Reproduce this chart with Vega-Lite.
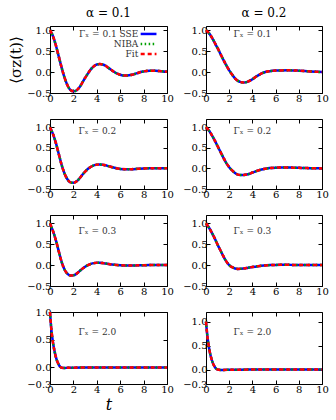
{
"$schema": "https://vega.github.io/schema/vega-lite/v6.json",
"background": "white",
"padding": {"left": 8, "top": 6, "right": 4, "bottom": 4},
"config": {
  "view": {"stroke": "black", "strokeWidth": 1},
  "font": "DejaVu Serif",
  "axis": {"domain": false, "grid": false, "tickSize": -4, "tickColor": "black", "tickWidth": 1, "labelFont": "DejaVu Serif", "labelFontSize": 10, "labelColor": "black", "labelPadding": 3, "labelFlush": false, "labelOverlap": false, "titleFont": "DejaVu Serif", "titleFontWeight": "normal", "titleColor": "black"},
  "axisBottom": {"labelPadding": 4},
  "title": {"font": "DejaVu Serif", "fontSize": 12, "fontWeight": "normal", "color": "black", "offset": 5}
},
"datasets": {
  "A": [{"t":0,"sse":1,"niba":1,"fit":1},{"t":0.25,"sse":0.86,"niba":0.86,"fit":0.86},{"t":0.5,"sse":0.64,"niba":0.64,"fit":0.64},{"t":0.75,"sse":0.37,"niba":0.37,"fit":0.37},{"t":1,"sse":0.1,"niba":0.1,"fit":0.1},{"t":1.25,"sse":-0.14,"niba":-0.14,"fit":-0.14},{"t":1.5,"sse":-0.32,"niba":-0.32,"fit":-0.32},{"t":1.75,"sse":-0.43,"niba":-0.43,"fit":-0.43},{"t":2,"sse":-0.46,"niba":-0.46,"fit":-0.46},{"t":2.25,"sse":-0.44,"niba":-0.44,"fit":-0.44},{"t":2.5,"sse":-0.37,"niba":-0.37,"fit":-0.37},{"t":2.75,"sse":-0.26,"niba":-0.26,"fit":-0.26},{"t":3,"sse":-0.14,"niba":-0.14,"fit":-0.14},{"t":3.25,"sse":-0.03,"niba":-0.03,"fit":-0.03},{"t":3.5,"sse":0.07,"niba":0.07,"fit":0.07},{"t":3.75,"sse":0.14,"niba":0.14,"fit":0.14},{"t":4,"sse":0.18,"niba":0.18,"fit":0.18},{"t":4.25,"sse":0.19,"niba":0.19,"fit":0.19},{"t":4.5,"sse":0.18,"niba":0.18,"fit":0.18},{"t":4.75,"sse":0.15,"niba":0.15,"fit":0.15},{"t":5,"sse":0.1,"niba":0.1,"fit":0.1},{"t":5.25,"sse":0.05,"niba":0.05,"fit":0.05},{"t":5.5,"sse":0,"niba":0,"fit":0},{"t":5.75,"sse":-0.04,"niba":-0.04,"fit":-0.04},{"t":6,"sse":-0.065,"niba":-0.065,"fit":-0.065},{"t":6.25,"sse":-0.08,"niba":-0.08,"fit":-0.08},{"t":6.5,"sse":-0.083,"niba":-0.083,"fit":-0.083},{"t":6.75,"sse":-0.078,"niba":-0.078,"fit":-0.078},{"t":7,"sse":-0.065,"niba":-0.065,"fit":-0.065},{"t":7.25,"sse":-0.045,"niba":-0.045,"fit":-0.045},{"t":7.5,"sse":-0.022,"niba":-0.022,"fit":-0.022},{"t":7.75,"sse":0,"niba":0,"fit":0},{"t":8,"sse":0.015,"niba":0.015,"fit":0.015},{"t":8.5,"sse":0.033,"niba":0.033,"fit":0.033},{"t":9,"sse":0.031,"niba":0.031,"fit":0.031},{"t":9.5,"sse":0.02,"niba":0.02,"fit":0.02},{"t":10,"sse":0.01,"niba":0.01,"fit":0.01}],
  "B": [{"t":0,"sse":1,"niba":1,"fit":1},{"t":0.25,"sse":0.93,"niba":0.93,"fit":0.93},{"t":0.5,"sse":0.83,"niba":0.83,"fit":0.83},{"t":0.75,"sse":0.7,"niba":0.7,"fit":0.7},{"t":1,"sse":0.57,"niba":0.57,"fit":0.57},{"t":1.25,"sse":0.43,"niba":0.43,"fit":0.43},{"t":1.5,"sse":0.29,"niba":0.29,"fit":0.29},{"t":1.75,"sse":0.16,"niba":0.16,"fit":0.16},{"t":2,"sse":0.04,"niba":0.04,"fit":0.04},{"t":2.25,"sse":-0.06,"niba":-0.06,"fit":-0.06},{"t":2.5,"sse":-0.15,"niba":-0.15,"fit":-0.15},{"t":2.75,"sse":-0.21,"niba":-0.21,"fit":-0.21},{"t":3,"sse":-0.24,"niba":-0.24,"fit":-0.24},{"t":3.25,"sse":-0.25,"niba":-0.25,"fit":-0.25},{"t":3.5,"sse":-0.24,"niba":-0.24,"fit":-0.24},{"t":3.75,"sse":-0.21,"niba":-0.21,"fit":-0.21},{"t":4,"sse":-0.17,"niba":-0.17,"fit":-0.17},{"t":4.25,"sse":-0.12,"niba":-0.12,"fit":-0.12},{"t":4.5,"sse":-0.08,"niba":-0.08,"fit":-0.08},{"t":4.75,"sse":-0.04,"niba":-0.04,"fit":-0.04},{"t":5,"sse":-0.01,"niba":-0.01,"fit":-0.01},{"t":5.5,"sse":0.02,"niba":0.02,"fit":0.02},{"t":6,"sse":0.035,"niba":0.035,"fit":0.035},{"t":6.5,"sse":0.04,"niba":0.04,"fit":0.04},{"t":7,"sse":0.042,"niba":0.042,"fit":0.042},{"t":7.5,"sse":0.04,"niba":0.04,"fit":0.04},{"t":8,"sse":0.033,"niba":0.033,"fit":0.033},{"t":8.5,"sse":0.025,"niba":0.025,"fit":0.025},{"t":9,"sse":0.015,"niba":0.015,"fit":0.015},{"t":9.5,"sse":0.007,"niba":0.007,"fit":0.007},{"t":10,"sse":0,"niba":0,"fit":0}],
  "C": [{"t":0,"sse":1,"niba":1,"fit":1},{"t":0.25,"sse":0.84,"niba":0.84,"fit":0.84},{"t":0.5,"sse":0.62,"niba":0.62,"fit":0.62},{"t":0.75,"sse":0.35,"niba":0.35,"fit":0.35},{"t":1,"sse":0.08,"niba":0.08,"fit":0.08},{"t":1.25,"sse":-0.13,"niba":-0.13,"fit":-0.13},{"t":1.5,"sse":-0.27,"niba":-0.27,"fit":-0.27},{"t":1.75,"sse":-0.34,"niba":-0.34,"fit":-0.34},{"t":2,"sse":-0.35,"niba":-0.35,"fit":-0.35},{"t":2.25,"sse":-0.32,"niba":-0.32,"fit":-0.32},{"t":2.5,"sse":-0.25,"niba":-0.25,"fit":-0.25},{"t":2.75,"sse":-0.16,"niba":-0.16,"fit":-0.16},{"t":3,"sse":-0.08,"niba":-0.08,"fit":-0.08},{"t":3.25,"sse":-0.01,"niba":-0.01,"fit":-0.01},{"t":3.5,"sse":0.04,"niba":0.04,"fit":0.04},{"t":3.75,"sse":0.075,"niba":0.075,"fit":0.075},{"t":4,"sse":0.092,"niba":0.092,"fit":0.092},{"t":4.25,"sse":0.096,"niba":0.096,"fit":0.096},{"t":4.5,"sse":0.09,"niba":0.09,"fit":0.09},{"t":4.75,"sse":0.075,"niba":0.075,"fit":0.075},{"t":5,"sse":0.055,"niba":0.055,"fit":0.055},{"t":5.25,"sse":0.035,"niba":0.035,"fit":0.035},{"t":5.5,"sse":0.015,"niba":0.015,"fit":0.015},{"t":5.75,"sse":0,"niba":0,"fit":0},{"t":6,"sse":-0.012,"niba":-0.012,"fit":-0.012},{"t":6.5,"sse":-0.02,"niba":-0.02,"fit":-0.02},{"t":7,"sse":-0.018,"niba":-0.018,"fit":-0.018},{"t":7.5,"sse":-0.01,"niba":-0.01,"fit":-0.01},{"t":8,"sse":-0.002,"niba":-0.002,"fit":-0.002},{"t":8.5,"sse":0.004,"niba":0.004,"fit":0.004},{"t":9,"sse":0.006,"niba":0.006,"fit":0.006},{"t":9.5,"sse":0.005,"niba":0.005,"fit":0.005},{"t":10,"sse":0.003,"niba":0.003,"fit":0.003}],
  "D": [{"t":0,"sse":1,"niba":1,"fit":1},{"t":0.25,"sse":0.92,"niba":0.92,"fit":0.92},{"t":0.5,"sse":0.81,"niba":0.81,"fit":0.81},{"t":0.75,"sse":0.68,"niba":0.68,"fit":0.68},{"t":1,"sse":0.54,"niba":0.54,"fit":0.54},{"t":1.25,"sse":0.4,"niba":0.4,"fit":0.4},{"t":1.5,"sse":0.26,"niba":0.26,"fit":0.26},{"t":1.75,"sse":0.13,"niba":0.13,"fit":0.13},{"t":2,"sse":0.03,"niba":0.03,"fit":0.03},{"t":2.25,"sse":-0.05,"niba":-0.05,"fit":-0.05},{"t":2.5,"sse":-0.11,"niba":-0.11,"fit":-0.11},{"t":2.75,"sse":-0.15,"niba":-0.15,"fit":-0.15},{"t":3,"sse":-0.16,"niba":-0.16,"fit":-0.16},{"t":3.25,"sse":-0.16,"niba":-0.16,"fit":-0.16},{"t":3.5,"sse":-0.15,"niba":-0.15,"fit":-0.15},{"t":3.75,"sse":-0.13,"niba":-0.13,"fit":-0.13},{"t":4,"sse":-0.1,"niba":-0.1,"fit":-0.1},{"t":4.25,"sse":-0.075,"niba":-0.075,"fit":-0.075},{"t":4.5,"sse":-0.05,"niba":-0.05,"fit":-0.05},{"t":4.75,"sse":-0.03,"niba":-0.03,"fit":-0.03},{"t":5,"sse":-0.012,"niba":-0.012,"fit":-0.012},{"t":5.5,"sse":0.008,"niba":0.008,"fit":0.008},{"t":6,"sse":0.018,"niba":0.018,"fit":0.018},{"t":6.5,"sse":0.022,"niba":0.022,"fit":0.022},{"t":7,"sse":0.022,"niba":0.022,"fit":0.022},{"t":7.5,"sse":0.019,"niba":0.019,"fit":0.019},{"t":8,"sse":0.014,"niba":0.014,"fit":0.014},{"t":8.5,"sse":0.009,"niba":0.009,"fit":0.009},{"t":9,"sse":0.005,"niba":0.005,"fit":0.005},{"t":9.5,"sse":0.002,"niba":0.002,"fit":0.002},{"t":10,"sse":0,"niba":0,"fit":0}],
  "E": [{"t":0,"sse":1,"niba":1,"fit":1},{"t":0.25,"sse":0.82,"niba":0.82,"fit":0.82},{"t":0.5,"sse":0.6,"niba":0.6,"fit":0.6},{"t":0.75,"sse":0.33,"niba":0.33,"fit":0.33},{"t":1,"sse":0.07,"niba":0.07,"fit":0.07},{"t":1.25,"sse":-0.11,"niba":-0.11,"fit":-0.11},{"t":1.5,"sse":-0.21,"niba":-0.21,"fit":-0.21},{"t":1.75,"sse":-0.25,"niba":-0.25,"fit":-0.25},{"t":2,"sse":-0.245,"niba":-0.245,"fit":-0.245},{"t":2.25,"sse":-0.21,"niba":-0.21,"fit":-0.21},{"t":2.5,"sse":-0.15,"niba":-0.15,"fit":-0.15},{"t":2.75,"sse":-0.09,"niba":-0.09,"fit":-0.09},{"t":3,"sse":-0.04,"niba":-0.04,"fit":-0.04},{"t":3.25,"sse":0,"niba":0,"fit":0},{"t":3.5,"sse":0.03,"niba":0.03,"fit":0.03},{"t":3.75,"sse":0.048,"niba":0.048,"fit":0.048},{"t":4,"sse":0.055,"niba":0.055,"fit":0.055},{"t":4.25,"sse":0.054,"niba":0.054,"fit":0.054},{"t":4.5,"sse":0.048,"niba":0.048,"fit":0.048},{"t":4.75,"sse":0.038,"niba":0.038,"fit":0.038},{"t":5,"sse":0.027,"niba":0.027,"fit":0.027},{"t":5.5,"sse":0.008,"niba":0.008,"fit":0.008},{"t":6,"sse":-0.004,"niba":-0.004,"fit":-0.004},{"t":6.5,"sse":-0.008,"niba":-0.008,"fit":-0.008},{"t":7,"sse":-0.008,"niba":-0.008,"fit":-0.008},{"t":7.5,"sse":-0.005,"niba":-0.005,"fit":-0.005},{"t":8,"sse":-0.002,"niba":-0.002,"fit":-0.002},{"t":8.5,"sse":0,"niba":0,"fit":0},{"t":9,"sse":0.001,"niba":0.001,"fit":0.001},{"t":9.5,"sse":0.001,"niba":0.001,"fit":0.001},{"t":10,"sse":0,"niba":0,"fit":0}],
  "F": [{"t":0,"sse":1,"niba":1,"fit":1},{"t":0.25,"sse":0.9,"niba":0.9,"fit":0.9},{"t":0.5,"sse":0.78,"niba":0.78,"fit":0.78},{"t":0.75,"sse":0.64,"niba":0.64,"fit":0.64},{"t":1,"sse":0.49,"niba":0.49,"fit":0.49},{"t":1.25,"sse":0.35,"niba":0.35,"fit":0.35},{"t":1.5,"sse":0.21,"niba":0.21,"fit":0.21},{"t":1.75,"sse":0.09,"niba":0.09,"fit":0.09},{"t":2,"sse":0,"niba":0,"fit":0},{"t":2.25,"sse":-0.05,"niba":-0.05,"fit":-0.05},{"t":2.5,"sse":-0.08,"niba":-0.08,"fit":-0.08},{"t":2.75,"sse":-0.09,"niba":-0.09,"fit":-0.09},{"t":3,"sse":-0.088,"niba":-0.088,"fit":-0.088},{"t":3.25,"sse":-0.08,"niba":-0.08,"fit":-0.08},{"t":3.5,"sse":-0.07,"niba":-0.07,"fit":-0.07},{"t":3.75,"sse":-0.057,"niba":-0.057,"fit":-0.057},{"t":4,"sse":-0.045,"niba":-0.045,"fit":-0.045},{"t":4.5,"sse":-0.025,"niba":-0.025,"fit":-0.025},{"t":5,"sse":-0.01,"niba":-0.01,"fit":-0.01},{"t":5.5,"sse":0,"niba":0,"fit":0},{"t":6,"sse":0.005,"niba":0.005,"fit":0.005},{"t":6.5,"sse":0.007,"niba":0.007,"fit":0.007},{"t":7,"sse":0.007,"niba":0.007,"fit":0.007},{"t":7.5,"sse":0.005,"niba":0.005,"fit":0.005},{"t":8,"sse":0.003,"niba":0.003,"fit":0.003},{"t":9,"sse":0.001,"niba":0.001,"fit":0.001},{"t":10,"sse":0,"niba":0,"fit":0}],
  "G": [{"t":0,"sse":1,"niba":1,"fit":1},{"t":0.1,"sse":0.72,"niba":0.72,"fit":0.72},{"t":0.2,"sse":0.53,"niba":0.53,"fit":0.53},{"t":0.3,"sse":0.39,"niba":0.39,"fit":0.39},{"t":0.4,"sse":0.28,"niba":0.28,"fit":0.28},{"t":0.5,"sse":0.19,"niba":0.19,"fit":0.19},{"t":0.6,"sse":0.12,"niba":0.12,"fit":0.12},{"t":0.7,"sse":0.07,"niba":0.07,"fit":0.07},{"t":0.8,"sse":0.03,"niba":0.03,"fit":0.03},{"t":0.9,"sse":0.005,"niba":0.005,"fit":0.005},{"t":1,"sse":-0.008,"niba":-0.008,"fit":-0.008},{"t":1.25,"sse":-0.01,"niba":-0.01,"fit":-0.01},{"t":1.5,"sse":-0.008,"niba":-0.008,"fit":-0.008},{"t":2,"sse":-0.005,"niba":-0.005,"fit":-0.005},{"t":3,"sse":-0.002,"niba":-0.002,"fit":-0.002},{"t":4,"sse":0,"niba":0,"fit":0},{"t":6,"sse":0,"niba":0,"fit":0},{"t":8,"sse":0,"niba":0,"fit":0},{"t":10,"sse":0,"niba":0,"fit":0}],
  "H": [{"t":0,"sse":1,"niba":1,"fit":1},{"t":0.1,"sse":0.74,"niba":0.74,"fit":0.74},{"t":0.2,"sse":0.55,"niba":0.55,"fit":0.55},{"t":0.3,"sse":0.4,"niba":0.4,"fit":0.4},{"t":0.4,"sse":0.29,"niba":0.29,"fit":0.29},{"t":0.5,"sse":0.2,"niba":0.2,"fit":0.2},{"t":0.6,"sse":0.13,"niba":0.13,"fit":0.13},{"t":0.7,"sse":0.08,"niba":0.08,"fit":0.08},{"t":0.8,"sse":0.04,"niba":0.04,"fit":0.04},{"t":0.9,"sse":0.015,"niba":0.015,"fit":0.015},{"t":1,"sse":0,"niba":0,"fit":0},{"t":1.25,"sse":-0.006,"niba":-0.006,"fit":-0.006},{"t":1.5,"sse":-0.006,"niba":-0.006,"fit":-0.006},{"t":2,"sse":-0.004,"niba":-0.004,"fit":-0.004},{"t":3,"sse":-0.002,"niba":-0.002,"fit":-0.002},{"t":4,"sse":0,"niba":0,"fit":0},{"t":6,"sse":0,"niba":0,"fit":0},{"t":8,"sse":0,"niba":0,"fit":0},{"t":10,"sse":0,"niba":0,"fit":0}]
},
"columns": 2,
"spacing": {"row": 26, "column": 39},
"bounds": "flush",
"concat": [
  {"width": 117, "height": 67, "title": {"text": "α = 0.1", "font": "DejaVu Serif", "fontSize": 12, "fontWeight": "normal"}, "data": {"name": "A"},
   "layer": [
    {"mark": {"type": "line", "color": "#0000ff", "strokeWidth": 2.5, "interpolate": "monotone"},
     "encoding": {"x": {"field": "t", "type": "quantitative", "scale": {"domain": [0, 10], "nice": false}, "axis": {"values": [0, 2, 4, 6, 8, 10], "format": "d", "title": null}},
                  "y": {"field": "sse", "type": "quantitative", "scale": {"domain": [-0.5, 1.1], "nice": false, "zero": false}, "axis": {"values": [-0.5, 0, 0.5, 1], "format": ".1f", "title": "⟨σz(t)⟩", "titleFont": "DejaVu Serif", "titleFontSize": 15, "titleFontWeight": "normal", "titlePadding": 3}}}},
    {"mark": {"type": "line", "color": "#00a000", "strokeWidth": 2.5, "strokeDash": [1.5, 2.5], "interpolate": "monotone"},
     "encoding": {"x": {"field": "t", "type": "quantitative", "scale": {"domain": [0, 10], "nice": false}, "axis": {"orient": "top", "values": [0, 2, 4, 6, 8, 10], "labels": false, "title": null}},
                  "y": {"field": "niba", "type": "quantitative", "scale": {"domain": [-0.5, 1.1], "nice": false, "zero": false}, "axis": {"orient": "right", "values": [-0.5, 0, 0.5, 1], "labels": false, "title": null}}}},
    {"mark": {"type": "line", "color": "#ff0000", "strokeWidth": 2.5, "strokeDash": [4, 3], "interpolate": "monotone"},
     "encoding": {"x": {"field": "t", "type": "quantitative", "axis": null}, "y": {"field": "fit", "type": "quantitative", "axis": null}}},
    {"data": {"values": [{"t0": 7.75, "t1": 9.1, "y": 0.91}]}, "mark": {"type": "rule", "color": "#0000ff", "strokeWidth": 2.5},
     "encoding": {"x": {"field": "t0", "type": "quantitative", "axis": null}, "x2": {"field": "t1"}, "y": {"field": "y", "type": "quantitative", "axis": null}}},
    {"data": {"values": [{"t0": 7.75, "t1": 9.1, "y": 0.67}]}, "mark": {"type": "rule", "color": "#00a000", "strokeWidth": 2.5, "strokeDash": [1.5, 2.5]},
     "encoding": {"x": {"field": "t0", "type": "quantitative", "axis": null}, "x2": {"field": "t1"}, "y": {"field": "y", "type": "quantitative", "axis": null}}},
    {"data": {"values": [{"t0": 7.75, "t1": 9.1, "y": 0.43}]}, "mark": {"type": "rule", "color": "#ff0000", "strokeWidth": 2.5, "strokeDash": [4, 3]},
     "encoding": {"x": {"field": "t0", "type": "quantitative", "axis": null}, "x2": {"field": "t1"}, "y": {"field": "y", "type": "quantitative", "axis": null}}},
    {"data": {"values": [{"t": 7.55, "y": 0.91, "label": "Γₓ = 0.1 SSE"}, {"t": 7.55, "y": 0.67, "label": "NIBA"}, {"t": 7.55, "y": 0.43, "label": "Fit"}]},
     "mark": {"type": "text", "font": "DejaVu Serif", "fontSize": 9, "color": "#333333", "align": "right"},
     "encoding": {"x": {"field": "t", "type": "quantitative", "axis": null}, "y": {"field": "y", "type": "quantitative", "axis": null}, "text": {"field": "label"}}}
   ],
   "resolve": {"axis": {"x": "independent", "y": "independent"}}},
  {"width": 116, "height": 67, "title": {"text": "α = 0.2", "font": "DejaVu Serif", "fontSize": 12, "fontWeight": "normal"}, "data": {"name": "B"},
   "layer": [
    {"mark": {"type": "line", "color": "#0000ff", "strokeWidth": 2.5, "interpolate": "monotone"},
     "encoding": {"x": {"field": "t", "type": "quantitative", "scale": {"domain": [0, 10], "nice": false}, "axis": {"values": [0, 2, 4, 6, 8, 10], "format": "d", "title": null}},
                  "y": {"field": "sse", "type": "quantitative", "scale": {"domain": [-0.5, 1.1], "nice": false, "zero": false}, "axis": {"values": [-0.5, 0, 0.5, 1], "format": ".1f", "title": null}}}},
    {"mark": {"type": "line", "color": "#00a000", "strokeWidth": 2.5, "strokeDash": [1.5, 2.5], "interpolate": "monotone"},
     "encoding": {"x": {"field": "t", "type": "quantitative", "scale": {"domain": [0, 10], "nice": false}, "axis": {"orient": "top", "values": [0, 2, 4, 6, 8, 10], "labels": false, "title": null}},
                  "y": {"field": "niba", "type": "quantitative", "scale": {"domain": [-0.5, 1.1], "nice": false, "zero": false}, "axis": {"orient": "right", "values": [-0.5, 0, 0.5, 1], "labels": false, "title": null}}}},
    {"mark": {"type": "line", "color": "#ff0000", "strokeWidth": 2.5, "strokeDash": [4, 3], "interpolate": "monotone"},
     "encoding": {"x": {"field": "t", "type": "quantitative", "axis": null}, "y": {"field": "fit", "type": "quantitative", "axis": null}}},
    {"data": {"values": [{"t": 4.0, "y": 0.9, "label": "Γₓ = 0.1"}]}, "mark": {"type": "text", "font": "DejaVu Serif", "fontSize": 9, "color": "#333333"},
     "encoding": {"x": {"field": "t", "type": "quantitative", "axis": null}, "y": {"field": "y", "type": "quantitative", "axis": null}, "text": {"field": "label"}}}
   ],
   "resolve": {"axis": {"x": "independent", "y": "independent"}}},
  {"width": 117, "height": 70, "data": {"name": "C"},
   "layer": [
    {"mark": {"type": "line", "color": "#0000ff", "strokeWidth": 2.5, "interpolate": "monotone"},
     "encoding": {"x": {"field": "t", "type": "quantitative", "scale": {"domain": [0, 10], "nice": false}, "axis": {"values": [0, 2, 4, 6, 8, 10], "format": "d", "title": null}},
                  "y": {"field": "sse", "type": "quantitative", "scale": {"domain": [-0.5, 1.2], "nice": false, "zero": false}, "axis": {"values": [-0.5, 0, 0.5, 1], "format": ".1f", "title": null}}}},
    {"mark": {"type": "line", "color": "#00a000", "strokeWidth": 2.5, "strokeDash": [1.5, 2.5], "interpolate": "monotone"},
     "encoding": {"x": {"field": "t", "type": "quantitative", "scale": {"domain": [0, 10], "nice": false}, "axis": {"orient": "top", "values": [0, 2, 4, 6, 8, 10], "labels": false, "title": null}},
                  "y": {"field": "niba", "type": "quantitative", "scale": {"domain": [-0.5, 1.2], "nice": false, "zero": false}, "axis": {"orient": "right", "values": [-0.5, 0, 0.5, 1], "labels": false, "title": null}}}},
    {"mark": {"type": "line", "color": "#ff0000", "strokeWidth": 2.5, "strokeDash": [4, 3], "interpolate": "monotone"},
     "encoding": {"x": {"field": "t", "type": "quantitative", "axis": null}, "y": {"field": "fit", "type": "quantitative", "axis": null}}},
    {"data": {"values": [{"t": 4.05, "y": 0.91, "label": "Γₓ = 0.2"}]}, "mark": {"type": "text", "font": "DejaVu Serif", "fontSize": 9, "color": "#333333"},
     "encoding": {"x": {"field": "t", "type": "quantitative", "axis": null}, "y": {"field": "y", "type": "quantitative", "axis": null}, "text": {"field": "label"}}}
   ],
   "resolve": {"axis": {"x": "independent", "y": "independent"}}},
  {"width": 116, "height": 70, "data": {"name": "D"},
   "layer": [
    {"mark": {"type": "line", "color": "#0000ff", "strokeWidth": 2.5, "interpolate": "monotone"},
     "encoding": {"x": {"field": "t", "type": "quantitative", "scale": {"domain": [0, 10], "nice": false}, "axis": {"values": [0, 2, 4, 6, 8, 10], "format": "d", "title": null}},
                  "y": {"field": "sse", "type": "quantitative", "scale": {"domain": [-0.5, 1.2], "nice": false, "zero": false}, "axis": {"values": [-0.5, 0, 0.5, 1], "format": ".1f", "title": null}}}},
    {"mark": {"type": "line", "color": "#00a000", "strokeWidth": 2.5, "strokeDash": [1.5, 2.5], "interpolate": "monotone"},
     "encoding": {"x": {"field": "t", "type": "quantitative", "scale": {"domain": [0, 10], "nice": false}, "axis": {"orient": "top", "values": [0, 2, 4, 6, 8, 10], "labels": false, "title": null}},
                  "y": {"field": "niba", "type": "quantitative", "scale": {"domain": [-0.5, 1.2], "nice": false, "zero": false}, "axis": {"orient": "right", "values": [-0.5, 0, 0.5, 1], "labels": false, "title": null}}}},
    {"mark": {"type": "line", "color": "#ff0000", "strokeWidth": 2.5, "strokeDash": [4, 3], "interpolate": "monotone"},
     "encoding": {"x": {"field": "t", "type": "quantitative", "axis": null}, "y": {"field": "fit", "type": "quantitative", "axis": null}}},
    {"data": {"values": [{"t": 4.0, "y": 0.91, "label": "Γₓ = 0.2"}]}, "mark": {"type": "text", "font": "DejaVu Serif", "fontSize": 9, "color": "#333333"},
     "encoding": {"x": {"field": "t", "type": "quantitative", "axis": null}, "y": {"field": "y", "type": "quantitative", "axis": null}, "text": {"field": "label"}}}
   ],
   "resolve": {"axis": {"x": "independent", "y": "independent"}}},
  {"width": 117, "height": 71, "data": {"name": "E"},
   "layer": [
    {"mark": {"type": "line", "color": "#0000ff", "strokeWidth": 2.5, "interpolate": "monotone"},
     "encoding": {"x": {"field": "t", "type": "quantitative", "scale": {"domain": [0, 10], "nice": false}, "axis": {"values": [0, 2, 4, 6, 8, 10], "format": "d", "title": null}},
                  "y": {"field": "sse", "type": "quantitative", "scale": {"domain": [-0.5, 1.2], "nice": false, "zero": false}, "axis": {"values": [-0.5, 0, 0.5, 1], "format": ".1f", "title": null}}}},
    {"mark": {"type": "line", "color": "#00a000", "strokeWidth": 2.5, "strokeDash": [1.5, 2.5], "interpolate": "monotone"},
     "encoding": {"x": {"field": "t", "type": "quantitative", "scale": {"domain": [0, 10], "nice": false}, "axis": {"orient": "top", "values": [0, 2, 4, 6, 8, 10], "labels": false, "title": null}},
                  "y": {"field": "niba", "type": "quantitative", "scale": {"domain": [-0.5, 1.2], "nice": false, "zero": false}, "axis": {"orient": "right", "values": [-0.5, 0, 0.5, 1], "labels": false, "title": null}}}},
    {"mark": {"type": "line", "color": "#ff0000", "strokeWidth": 2.5, "strokeDash": [4, 3], "interpolate": "monotone"},
     "encoding": {"x": {"field": "t", "type": "quantitative", "axis": null}, "y": {"field": "fit", "type": "quantitative", "axis": null}}},
    {"data": {"values": [{"t": 4.05, "y": 0.82, "label": "Γₓ = 0.3"}]}, "mark": {"type": "text", "font": "DejaVu Serif", "fontSize": 9, "color": "#333333"},
     "encoding": {"x": {"field": "t", "type": "quantitative", "axis": null}, "y": {"field": "y", "type": "quantitative", "axis": null}, "text": {"field": "label"}}}
   ],
   "resolve": {"axis": {"x": "independent", "y": "independent"}}},
  {"width": 116, "height": 71, "data": {"name": "F"},
   "layer": [
    {"mark": {"type": "line", "color": "#0000ff", "strokeWidth": 2.5, "interpolate": "monotone"},
     "encoding": {"x": {"field": "t", "type": "quantitative", "scale": {"domain": [0, 10], "nice": false}, "axis": {"values": [0, 2, 4, 6, 8, 10], "format": "d", "title": null}},
                  "y": {"field": "sse", "type": "quantitative", "scale": {"domain": [-0.5, 1.2], "nice": false, "zero": false}, "axis": {"values": [-0.5, 0, 0.5, 1], "format": ".1f", "title": null}}}},
    {"mark": {"type": "line", "color": "#00a000", "strokeWidth": 2.5, "strokeDash": [1.5, 2.5], "interpolate": "monotone"},
     "encoding": {"x": {"field": "t", "type": "quantitative", "scale": {"domain": [0, 10], "nice": false}, "axis": {"orient": "top", "values": [0, 2, 4, 6, 8, 10], "labels": false, "title": null}},
                  "y": {"field": "niba", "type": "quantitative", "scale": {"domain": [-0.5, 1.2], "nice": false, "zero": false}, "axis": {"orient": "right", "values": [-0.5, 0, 0.5, 1], "labels": false, "title": null}}}},
    {"mark": {"type": "line", "color": "#ff0000", "strokeWidth": 2.5, "strokeDash": [4, 3], "interpolate": "monotone"},
     "encoding": {"x": {"field": "t", "type": "quantitative", "axis": null}, "y": {"field": "fit", "type": "quantitative", "axis": null}}},
    {"data": {"values": [{"t": 4.0, "y": 0.82, "label": "Γₓ = 0.3"}]}, "mark": {"type": "text", "font": "DejaVu Serif", "fontSize": 9, "color": "#333333"},
     "encoding": {"x": {"field": "t", "type": "quantitative", "axis": null}, "y": {"field": "y", "type": "quantitative", "axis": null}, "text": {"field": "label"}}}
   ],
   "resolve": {"axis": {"x": "independent", "y": "independent"}}},
  {"width": 117, "height": 72, "data": {"name": "G"},
   "layer": [
    {"mark": {"type": "line", "color": "#0000ff", "strokeWidth": 2.5, "interpolate": "monotone"},
     "encoding": {"x": {"field": "t", "type": "quantitative", "scale": {"domain": [0, 10], "nice": false}, "axis": {"values": [0, 2, 4, 6, 8, 10], "format": "d", "title": "t", "titleFont": "DejaVu Serif", "titleFontSize": 16, "titleFontWeight": "normal", "titleFontStyle": "italic", "titlePadding": 2}},
                  "y": {"field": "sse", "type": "quantitative", "scale": {"domain": [-0.3, 1.0], "nice": false, "zero": false}, "axis": {"values": [-0.3, 0, 0.5, 1], "format": ".1f", "title": null}}}},
    {"mark": {"type": "line", "color": "#00a000", "strokeWidth": 2.5, "strokeDash": [1.5, 2.5], "interpolate": "monotone"},
     "encoding": {"x": {"field": "t", "type": "quantitative", "scale": {"domain": [0, 10], "nice": false}, "axis": {"orient": "top", "values": [0, 2, 4, 6, 8, 10], "labels": false, "title": null}},
                  "y": {"field": "niba", "type": "quantitative", "scale": {"domain": [-0.3, 1.0], "nice": false, "zero": false}, "axis": {"orient": "right", "values": [-0.3, 0, 0.5, 1], "labels": false, "title": null}}}},
    {"mark": {"type": "line", "color": "#ff0000", "strokeWidth": 2.5, "strokeDash": [4, 3], "interpolate": "monotone"},
     "encoding": {"x": {"field": "t", "type": "quantitative", "axis": null}, "y": {"field": "fit", "type": "quantitative", "axis": null}}},
    {"data": {"values": [{"t": 4.05, "y": 0.64, "label": "Γₓ = 2.0"}]}, "mark": {"type": "text", "font": "DejaVu Serif", "fontSize": 9, "color": "#333333"},
     "encoding": {"x": {"field": "t", "type": "quantitative", "axis": null}, "y": {"field": "y", "type": "quantitative", "axis": null}, "text": {"field": "label"}}}
   ],
   "resolve": {"axis": {"x": "independent", "y": "independent"}}},
  {"width": 116, "height": 72, "data": {"name": "H"},
   "layer": [
    {"mark": {"type": "line", "color": "#0000ff", "strokeWidth": 2.5, "interpolate": "monotone"},
     "encoding": {"x": {"field": "t", "type": "quantitative", "scale": {"domain": [0, 10], "nice": false}, "axis": {"values": [0, 2, 4, 6, 8, 10], "format": "d", "title": null}},
                  "y": {"field": "sse", "type": "quantitative", "scale": {"domain": [-0.3, 1.2], "nice": false, "zero": false}, "axis": {"values": [-0.3, 0, 0.5, 1], "format": ".1f", "title": null}}}},
    {"mark": {"type": "line", "color": "#00a000", "strokeWidth": 2.5, "strokeDash": [1.5, 2.5], "interpolate": "monotone"},
     "encoding": {"x": {"field": "t", "type": "quantitative", "scale": {"domain": [0, 10], "nice": false}, "axis": {"orient": "top", "values": [0, 2, 4, 6, 8, 10], "labels": false, "title": null}},
                  "y": {"field": "niba", "type": "quantitative", "scale": {"domain": [-0.3, 1.2], "nice": false, "zero": false}, "axis": {"orient": "right", "values": [-0.3, 0, 0.5, 1], "labels": false, "title": null}}}},
    {"mark": {"type": "line", "color": "#ff0000", "strokeWidth": 2.5, "strokeDash": [4, 3], "interpolate": "monotone"},
     "encoding": {"x": {"field": "t", "type": "quantitative", "axis": null}, "y": {"field": "fit", "type": "quantitative", "axis": null}}},
    {"data": {"values": [{"t": 4.0, "y": 0.78, "label": "Γₓ = 2.0"}]}, "mark": {"type": "text", "font": "DejaVu Serif", "fontSize": 9, "color": "#333333"},
     "encoding": {"x": {"field": "t", "type": "quantitative", "axis": null}, "y": {"field": "y", "type": "quantitative", "axis": null}, "text": {"field": "label"}}}
   ],
   "resolve": {"axis": {"x": "independent", "y": "independent"}}}
]
}
